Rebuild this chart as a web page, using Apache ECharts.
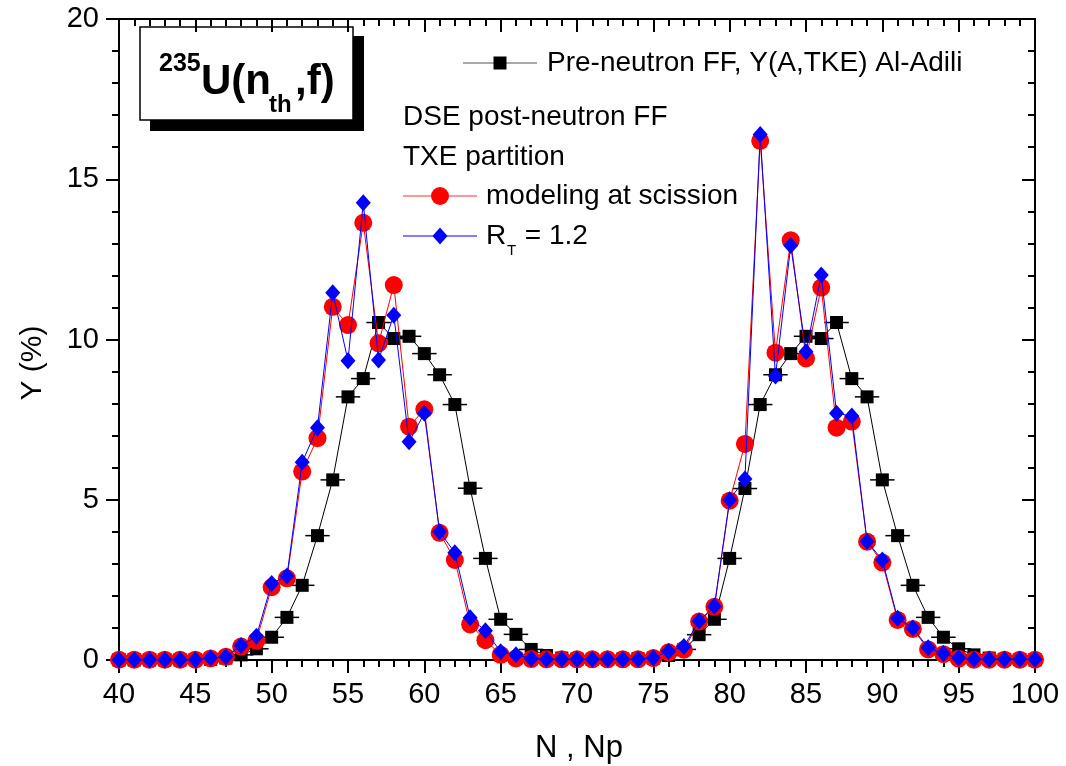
<!DOCTYPE html>
<html>
<head>
<meta charset="utf-8">
<script src="https://cdn.jsdelivr.net/npm/echarts@6/dist/echarts.min.js"></script>
<style>
  html, body { margin: 0; padding: 0; background: #fff; }
  #chart { width: 1066px; height: 766px; }
</style>
</head>
<body>
<div id="chart"></div>
<script>
// Neutron number of the fragment (N, Np)
const neutronNumbers = [];
for (let n = 40; n <= 100; n++) neutronNumbers.push(n);

// Pre-neutron fragment yields, Y(A,TKE) Al-Adili (%)
const preNeutronYield = [
  0, 0, 0, 0, 0, 0.01, 0.02, 0.06, 0.16, 0.35,
  0.71, 1.33, 2.33, 3.88, 5.62, 8.21, 8.78, 10.53, 10.03, 10.1,
  9.56, 8.9, 7.97, 5.36, 3.17, 1.27, 0.8, 0.33, 0.14, 0.06,
  0.03, 0.02, 0.02, 0.03, 0.04, 0.06, 0.14, 0.33, 0.79, 1.27,
  3.17, 5.35, 7.97, 8.9, 9.56, 10.1, 10.03, 10.53, 8.78, 8.21,
  5.62, 3.88, 2.33, 1.33, 0.71, 0.35, 0.16, 0.06, 0.02, 0.01,
  0
];
// Horizontal uncertainty on N for the pre-neutron points
const preNeutronErr = 0.8;

// DSE post-neutron yields, TXE partition from modeling at scission (%)
const scissionYield = [
  0.01, 0.01, 0.01, 0.01, 0.01, 0.01, 0.05, 0.1, 0.42, 0.6,
  2.27, 2.55, 5.88, 6.92, 11.02, 10.45, 13.64, 9.88, 11.7, 7.28,
  7.82, 3.97, 3.12, 1.11, 0.62, 0.16, 0.05, 0.03, 0.02, 0.02,
  0.02, 0.02, 0.02, 0.02, 0.02, 0.06, 0.24, 0.32, 1.2, 1.66,
  4.97, 6.74, 16.2, 9.59, 13.1, 9.41, 11.62, 7.25, 7.44, 3.69,
  3.04, 1.25, 0.97, 0.33, 0.18, 0.04, 0.01, 0.01, 0.01, 0.01,
  0.01
];

// DSE post-neutron yields, TXE partition with R_T = 1.2 (%)
const rtYield = [
  0.01, 0.01, 0.01, 0.01, 0.01, 0.01, 0.06, 0.1, 0.45, 0.74,
  2.39, 2.62, 6.17, 7.25, 11.46, 9.34, 14.27, 9.36, 10.76, 6.81,
  7.7, 4.0, 3.35, 1.32, 0.91, 0.26, 0.16, 0.04, 0.02, 0.02,
  0.02, 0.02, 0.02, 0.02, 0.02, 0.07, 0.27, 0.42, 1.22, 1.68,
  5.0, 5.65, 16.4, 8.86, 12.93, 9.62, 12.01, 7.7, 7.61, 3.7,
  3.12, 1.3, 1.0, 0.38, 0.2, 0.06, 0.02, 0.02, 0.02, 0.02,
  0.02
];

const xTicks = { min: 40, max: 100, interval: 5 };
const yTicks = { min: 0, max: 20, interval: 5 };

const FONT = 'Liberation Sans, Arial, Helvetica, sans-serif';
const pairs = (ys) => neutronNumbers.map((n, i) => [n, ys[i]]);

const axisLineStyle = { color: '#000', width: 2 };
function makeAxis(base, opts) {
  return Object.assign({
    type: 'value',
    min: base.min, max: base.max, interval: base.interval,
    axisLine: { show: true, onZero: false, lineStyle: axisLineStyle },
    axisTick: { show: true, inside: opts.inside, length: 13, lineStyle: { color: '#000', width: 2 } },
    minorTick: { show: true, splitNumber: 5, length: 7, lineStyle: { color: '#000', width: 2 } },
    splitLine: { show: false },
    minorSplitLine: { show: false },
    axisLabel: opts.labels ? {
      show: true, color: '#000', fontFamily: FONT, fontSize: 29, margin: 20
    } : { show: false }
  }, opts.extra || {});
}

const chart = echarts.init(document.getElementById('chart'), null, { renderer: 'canvas' });

// Legend block drawn as graphic elements
const legendItems = [
  { type: 'line', shape: { x1: 463, y1: 63, x2: 537, y2: 63 }, style: { stroke: '#555', lineWidth: 1.2 } },
  { type: 'rect', shape: { x: 493.5, y: 56.5, width: 13, height: 13 }, style: { fill: '#000' } },
  { type: 'text', style: { x: 547, y: 63, text: 'Pre-neutron FF, Y(A,TKE) Al-Adili', font: '28px ' + FONT, fill: '#000', verticalAlign: 'middle', align: 'left' } },
  { type: 'text', style: { x: 403, y: 117, text: 'DSE post-neutron FF', font: '28px ' + FONT, fill: '#000', verticalAlign: 'middle', align: 'left' } },
  { type: 'text', style: { x: 403, y: 157, text: 'TXE partition', font: '28px ' + FONT, fill: '#000', verticalAlign: 'middle', align: 'left' } },
  { type: 'line', shape: { x1: 403, y1: 196, x2: 477, y2: 196 }, style: { stroke: '#ff3030', lineWidth: 1.2 } },
  { type: 'circle', shape: { cx: 440, cy: 196, r: 9 }, style: { fill: '#ff0000' } },
  { type: 'text', style: { x: 486, y: 196, text: 'modeling at scission', font: '28px ' + FONT, fill: '#000', verticalAlign: 'middle', align: 'left' } },
  { type: 'line', shape: { x1: 403, y1: 236, x2: 477, y2: 236 }, style: { stroke: '#0000ff', lineWidth: 1.2 } },
  { type: 'polygon', shape: { points: [[440, 227.5], [447.5, 236], [440, 244.5], [432.5, 236]] }, style: { fill: '#0000ff' } },
  { type: 'text', style: { x: 486, y: 236, text: 'R', font: '28px ' + FONT, fill: '#000', verticalAlign: 'middle', align: 'left' } },
  { type: 'text', style: { x: 507, y: 251, text: 'T', font: '15px ' + FONT, fill: '#000', verticalAlign: 'middle', align: 'left' } },
  { type: 'text', style: { x: 517, y: 236, text: ' = 1.2', font: '28px ' + FONT, fill: '#000', verticalAlign: 'middle', align: 'left' } }
];

// Reaction label box with drop shadow
const titleBox = [
  { type: 'rect', shape: { x: 150, y: 36, width: 214, height: 95 }, style: { fill: '#000' } },
  { type: 'rect', shape: { x: 140, y: 27, width: 213, height: 93 }, style: { fill: '#fff', stroke: '#000', lineWidth: 1.5 } },
  { type: 'text', style: { x: 159, y: 64, text: '235', font: 'bold 25px ' + FONT, fill: '#000', verticalAlign: 'middle', align: 'left' } },
  { type: 'text', style: { x: 201, y: 82, text: 'U(n', font: 'bold 42px ' + FONT, fill: '#000', verticalAlign: 'middle', align: 'left' } },
  { type: 'text', style: { x: 269, y: 105, text: 'th', font: 'bold 24px ' + FONT, fill: '#000', verticalAlign: 'middle', align: 'left' } },
  { type: 'text', style: { x: 295, y: 82, text: ',f)', font: 'bold 42px ' + FONT, fill: '#000', verticalAlign: 'middle', align: 'left' } }
];

// Axis titles
const axisTitles = [
  { type: 'text', x: 33, y: 363, rotation: Math.PI / 2, style: { x: 0, y: 0, text: 'Y (%)', font: '30px ' + FONT, fill: '#000', verticalAlign: 'middle', align: 'center' } },
  { type: 'text', style: { x: 579, y: 748, text: 'N , Np', font: '31px ' + FONT, fill: '#000', verticalAlign: 'middle', align: 'center' } }
];

chart.setOption({
  animation: false,
  backgroundColor: '#fff',
  grid: { left: 119, right: 31, top: 19, bottom: 106, containLabel: false },
  xAxis: [
    makeAxis(xTicks, { inside: false, labels: true, extra: { position: 'bottom' } }),
    makeAxis(xTicks, { inside: true, labels: false, extra: { position: 'top' } })
  ],
  yAxis: [
    makeAxis(yTicks, { inside: false, labels: true, extra: { position: 'left' } }),
    makeAxis(yTicks, { inside: true, labels: false, extra: { position: 'right' } })
  ],
  series: [
    {
      name: 'pre-neutron error',
      type: 'custom',
      clip: true,
      z: 1,
      data: pairs(preNeutronYield),
      renderItem: function (params, api) {
        const n = api.value(0), y = api.value(1);
        const a = api.coord([n - preNeutronErr, y]);
        const b = api.coord([n + preNeutronErr, y]);
        return {
          type: 'line',
          shape: { x1: a[0], y1: a[1], x2: b[0], y2: b[1] },
          style: { stroke: '#000', lineWidth: 1.5 }
        };
      }
    },
    {
      name: 'Pre-neutron FF, Y(A,TKE) Al-Adili',
      type: 'line',
      z: 2,
      clip: false,
      data: pairs(preNeutronYield),
      symbol: 'rect',
      symbolSize: 13,
      showAllSymbol: true,
      lineStyle: { color: '#000', width: 1 },
      itemStyle: { color: '#000' }
    },
    {
      name: 'modeling at scission',
      type: 'line',
      z: 3,
      clip: false,
      data: pairs(scissionYield),
      symbol: 'circle',
      symbolSize: 18,
      showAllSymbol: true,
      lineStyle: { color: '#ff0000', width: 1 },
      itemStyle: { color: '#ff0000' }
    },
    {
      name: 'R_T = 1.2',
      type: 'line',
      z: 4,
      clip: false,
      data: pairs(rtYield),
      symbol: 'diamond',
      symbolSize: [15, 17],
      showAllSymbol: true,
      lineStyle: { color: '#0000ff', width: 1 },
      itemStyle: { color: '#0000ff' }
    }
  ],
  graphic: [].concat(titleBox, legendItems, axisTitles)
});
</script>
</body>
</html>
